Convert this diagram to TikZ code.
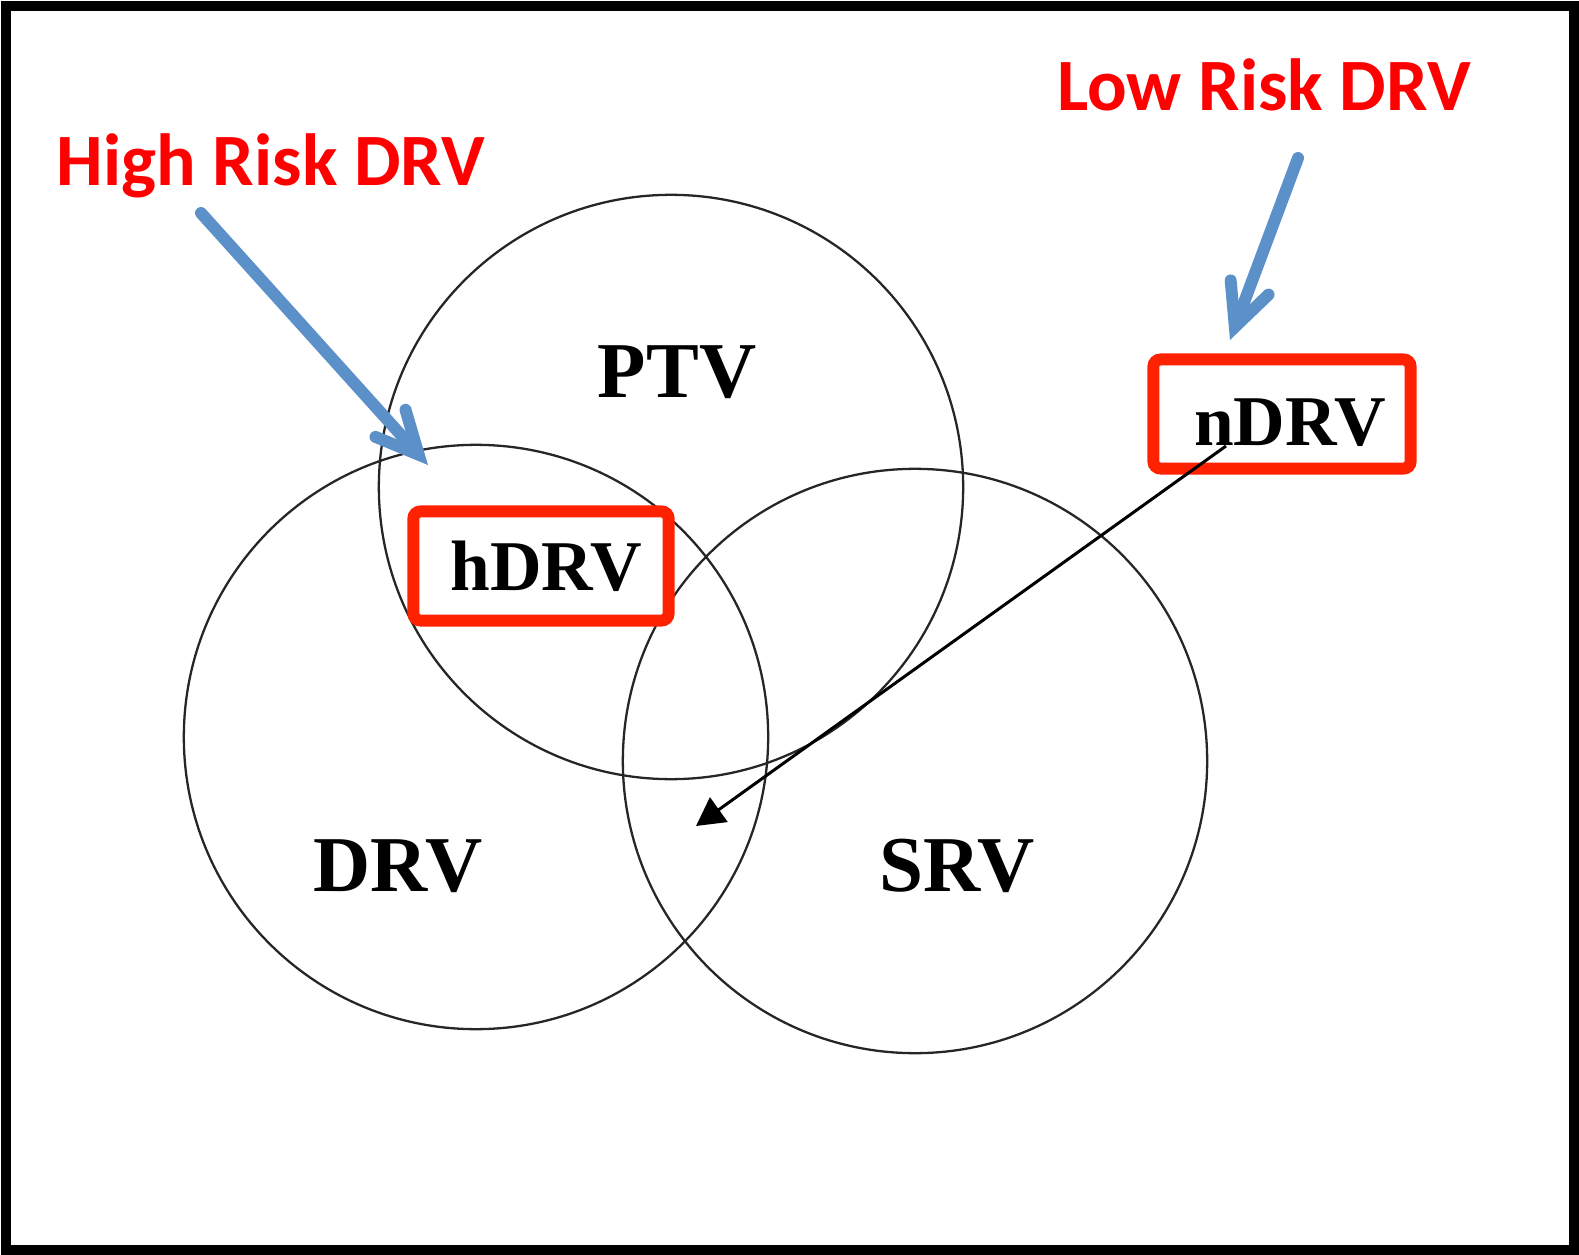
\documentclass[tikz,border=0pt]{standalone}
\usepackage{fontspec}
\setmainfont{Liberation Serif}
\newfontfamily\riskfont{Carlito}
\usetikzlibrary{arrows.meta}
\definecolor{riskred}{RGB}{255,0,0}
\definecolor{boxred}{RGB}{255,34,0}
\definecolor{pointblue}{RGB}{91,144,200}

\begin{document}
\begin{tikzpicture}[x=0.01cm, y=-0.01cm,
    set/.style={draw=black!85, circle, line width=0.65pt, minimum size=5.84cm, inner sep=0pt},
    setname/.style={font=\fontsize{22.5}{24}\selectfont\bfseries, anchor=base},
    riskbox/.style={draw=boxred, fill=white, line width=3.4pt, rounded corners=2pt, inner sep=0pt,
        minimum height=1.09cm, font=\fontsize{20.3}{22}\selectfont\bfseries},
    risklabel/.style={text=riskred, font=\riskfont\fontsize{21}{24}\selectfont\bfseries, anchor=base},
    pointer/.style={draw=pointblue, line width=3.4pt, line cap=round,
        -{Straight Barb[length=12pt,width=11.5pt,line cap=round]}}]
    \useasboundingbox (0,0) rectangle (1579,1255);
    \draw[line width=3.1pt] (6,6) rectangle (1574,1250);

    % the three volumes
    \node[set] (C_ptv) at (671,487) {};
    \node[set] (C_drv) at (476,737) {};
    \node[set] (C_srv) at (915,761) {};
    \node[setname] (PTV) at (677,398) {PTV};
    \node[setname] (DRV) at (398,891) {DRV};
    \node[setname] (SRV) at (957,891) {SRV};

    % marked regions
    \node[riskbox, minimum width=2.55cm] (hDRV) at (541,566) {\hspace{3pt}hDRV};
    \node[riskbox, minimum width=2.57cm, text height=18pt, text depth=0pt] (nDRV) at (1282,414) {\hspace{4.5pt}nDRV};

    \node[risklabel] (highrisk) at (271,186) {High Risk DRV};
    \node[risklabel] (lowrisk) at (1264,111) {Low Risk DRV};

    \coordinate (h_tail) at (201,213);
    \coordinate (h_tip) at (428,465);
    \coordinate (n_tail) at (1298,158);
    \coordinate (n_tip) at (1230,340);
    \coordinate (n_foot) at (1226,446);
    \coordinate (n_hit) at (696,826);

    \draw[pointer] (h_tail) -- (h_tip);
    \draw[pointer] (n_tail) -- (n_tip);
    \draw[line width=0.85pt, -{Triangle[length=8pt,width=8.5pt]}] (n_foot) -- (n_hit);
\end{tikzpicture}
\end{document}
